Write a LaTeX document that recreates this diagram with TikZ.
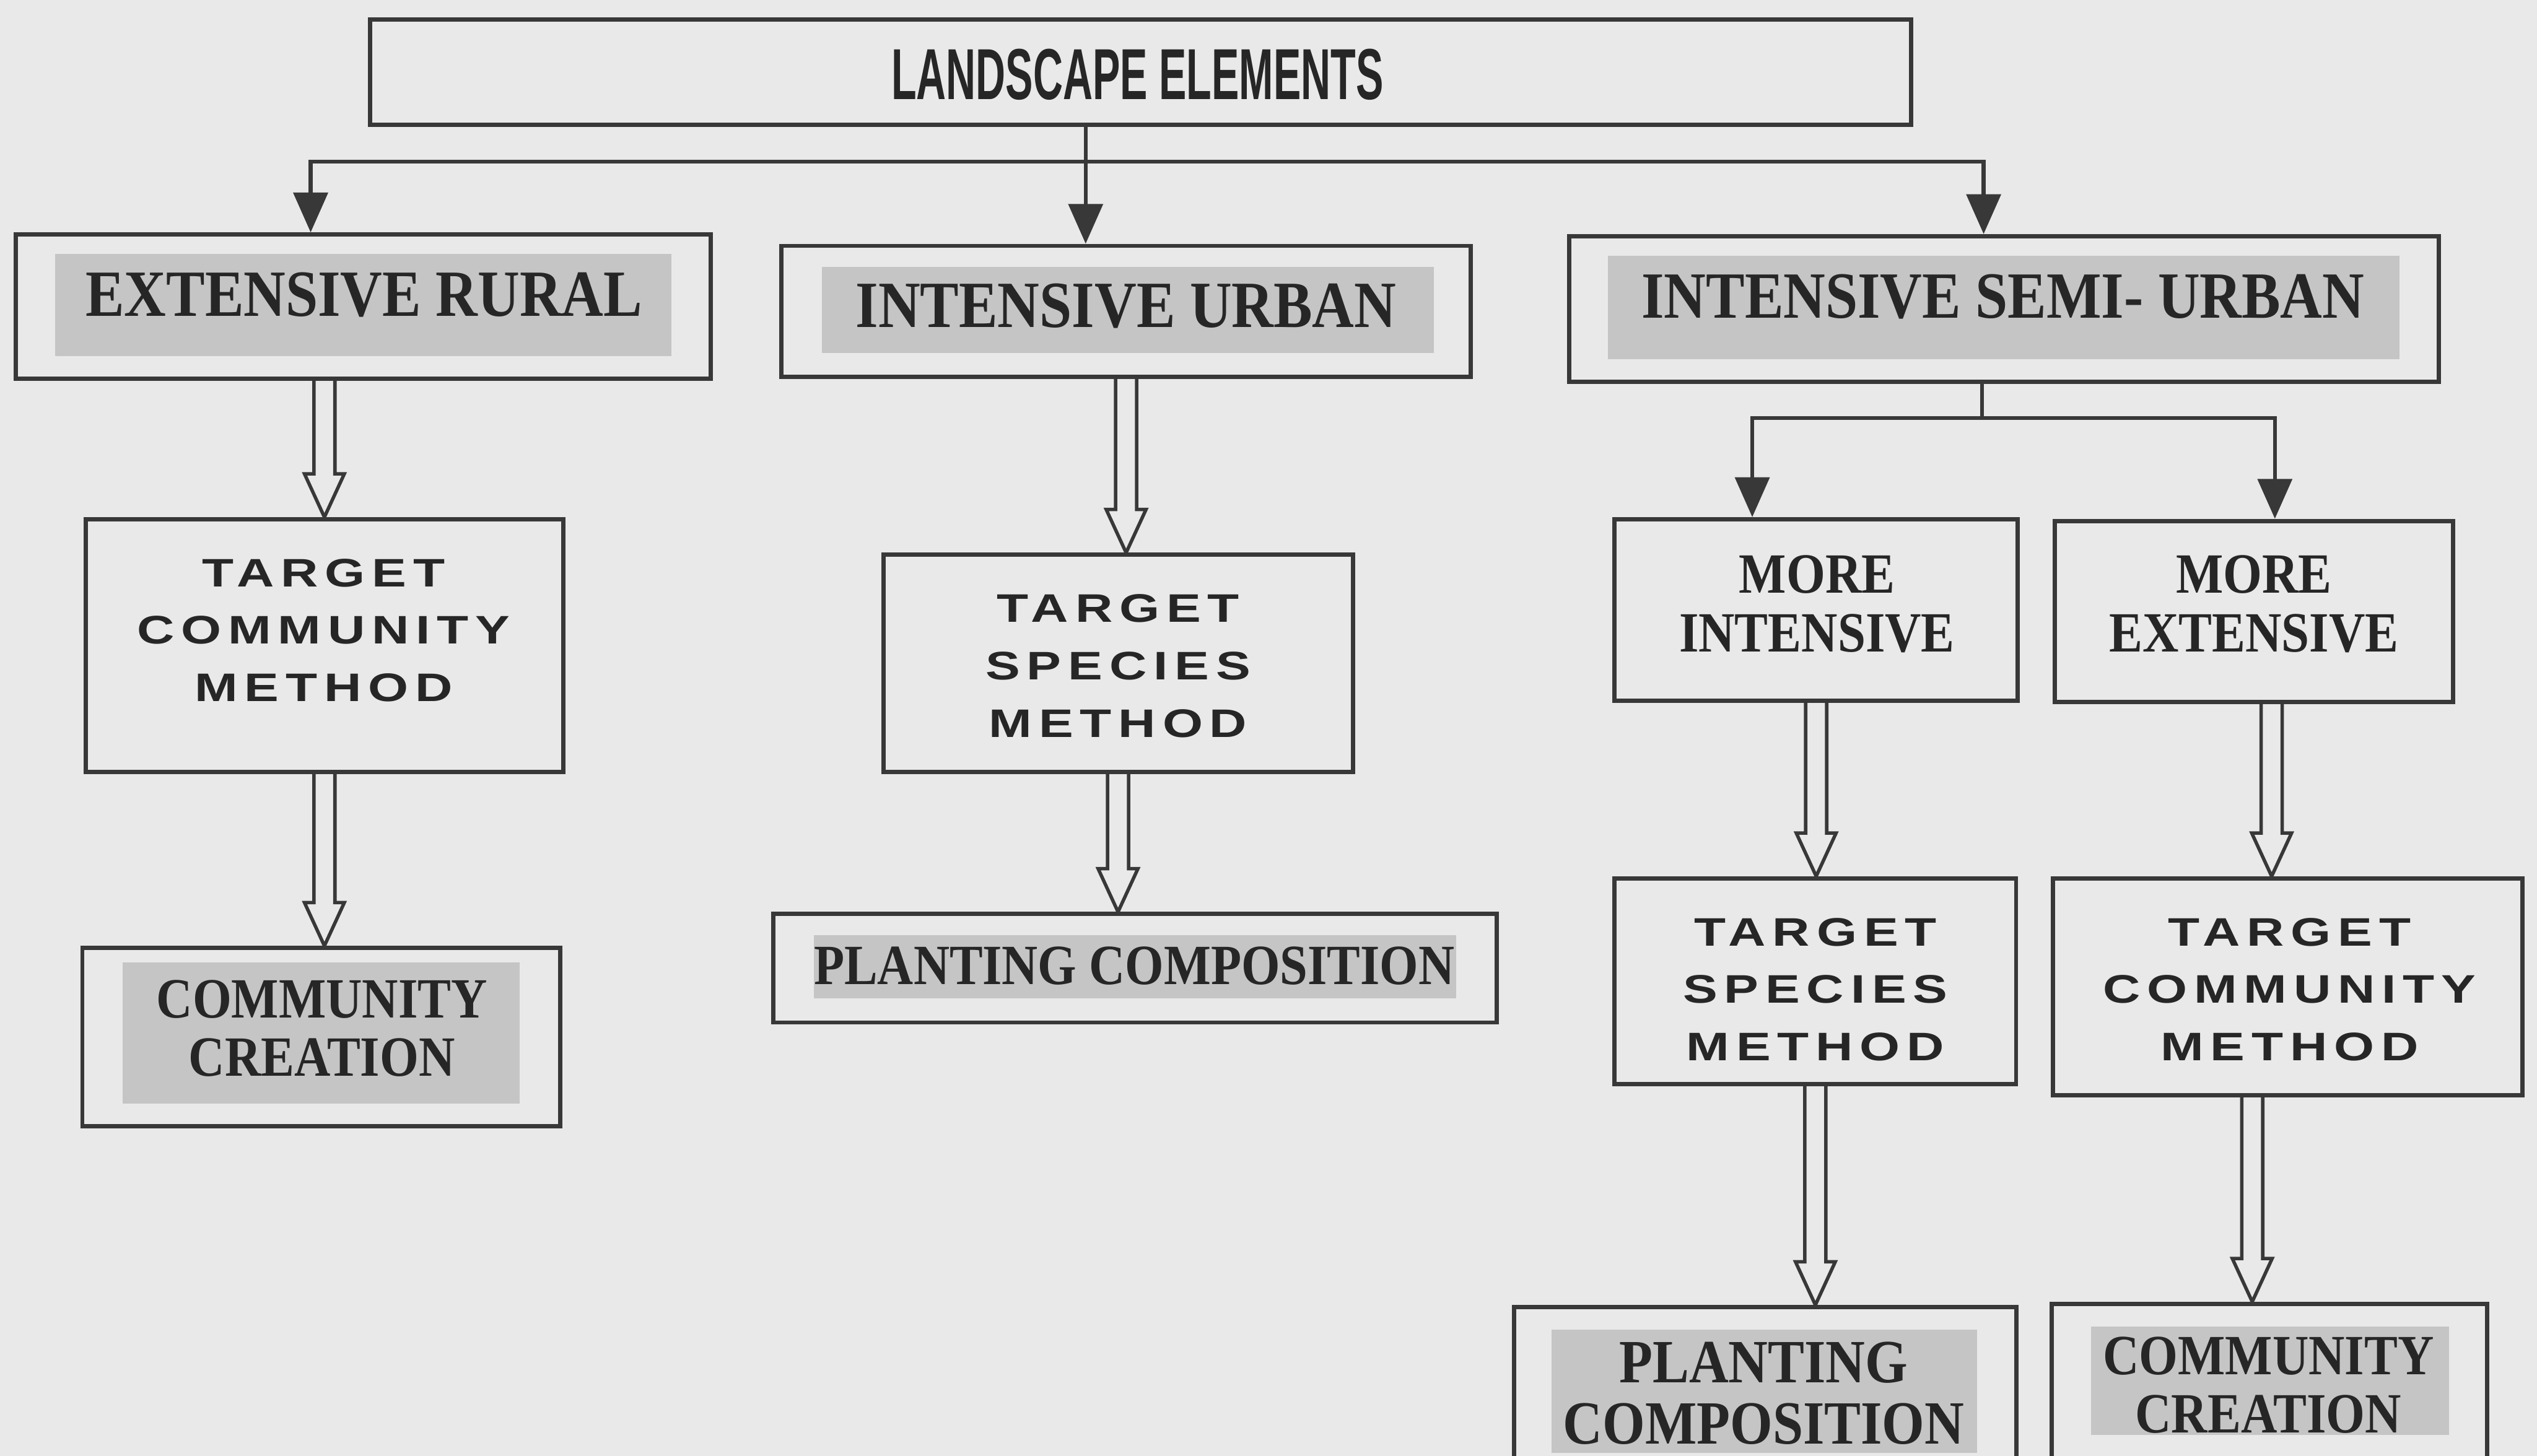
\documentclass[tikz,border=0pt]{standalone}
\usepackage{fontspec}
\setmainfont{Liberation Serif}
\newfontfamily\headfont{Liberation Sans}
\newfontfamily\widefont[LetterSpace=13]{Liberation Sans}
\usetikzlibrary{calc,arrows.meta}

\definecolor{paper}{HTML}{E9E9E9}
\definecolor{shade}{HTML}{C5C5C5}
\definecolor{ink}{HTML}{262626}
\definecolor{rule}{HTML}{383838}

% horizontally squeezed / stretched lines of text
\newcommand\sqz[1]{\scalebox{0.88}[1]{#1}}
\newcommand\wide[1]{\scalebox{1.3}[1]{#1}}

% open (outline) block arrow from the level of #1 down to the tip #2
\newcommand\fatarrow[2]{%
  \draw[hollow] let \p1=#1, \p2=#2 in
    (\x2-1.85pt,\y1) -- (\x2-1.85pt,\y2+7.6pt) -- (\x2-3.5pt,\y2+7.6pt)
    -- (\x2,\y2) -- (\x2+3.5pt,\y2+7.6pt) -- (\x2+1.85pt,\y2+7.6pt)
    -- (\x2+1.85pt,\y1);}

\tikzset{
  frame/.style 2 args={draw=rule, line width=0.75pt, inner sep=0pt,
    minimum width=#1, minimum height=#2},
  tint/.style 2 args={fill=shade, inner sep=0pt,
    minimum width=#1, minimum height=#2},
  label base/.style={inner sep=0pt, text depth=0pt, align=center, text=ink},
  titletext/.style={label base, font=\headfont\bfseries\fontsize{12.7}{14}\selectfont},
  bigserif/.style={label base, font=\bfseries\fontsize{11.6}{13}\selectfont},
  serif/.style={label base, font=\bfseries\fontsize{10}{10.3}\selectfont},
  serifb/.style={label base, font=\bfseries\fontsize{10.8}{10.8}\selectfont},
  widetext/.style={label base, font=\widefont\bfseries\fontsize{7}{10.1}\selectfont},
  link/.style={draw=rule, line width=0.7pt, -{Triangle[length=7pt,width=6pt]}},
  plain/.style={draw=rule, line width=0.7pt},
  hollow/.style={draw=rule, line width=0.6pt, line join=miter},
}

\begin{document}
\begin{tikzpicture}[x=0.01cm, y=-0.01cm]
\useasboundingbox (0,0) rectangle (1568,900);
\fill[paper] (0,0) rectangle (1568,900);
\clip (0,0) rectangle (1568,900);

% ---- frames ----
\node[frame={9.52cm}{0.65cm}] (top)  at (705,44.5) {};
\node[frame={4.29cm}{0.89cm}] (er)   at (224.5,189.5) {};
\node[frame={4.26cm}{0.81cm}] (iu)   at (696,192.5) {};
\node[frame={5.37cm}{0.90cm}] (isu)  at (1238.5,191) {};
\node[frame={2.95cm}{1.56cm}] (tcm1) at (200.5,399) {};
\node[frame={2.90cm}{1.34cm}] (tsm1) at (691,410) {};
\node[frame={2.95cm}{1.10cm}] (cc1)  at (198.5,641) {};
\node[frame={4.47cm}{0.67cm}] (pc1)  at (701.5,598.5) {};
\node[frame={2.49cm}{1.12cm}] (mi)   at (1122.5,377) {};
\node[frame={2.46cm}{1.12cm}] (me)   at (1393,378) {};
\node[frame={2.48cm}{1.27cm}] (tsm2) at (1122,606.5) {};
\node[frame={2.90cm}{1.34cm}] (tcm2) at (1414,610) {};
\node[frame={3.10cm}{1.32cm}] (pc2)  at (1091,874) {};
\node[frame={2.69cm}{1.34cm}] (cc2)  at (1402.5,873) {};

% ---- grey highlight panels ----
\node[tint={3.81cm}{0.63cm}] (er-bg)  at (224.5,188.5) {};
\node[tint={3.78cm}{0.53cm}] (iu-bg)  at (697,191.5) {};
\node[tint={4.89cm}{0.64cm}] (isu-bg) at (1238.5,190) {};
\node[tint={2.45cm}{0.87cm}] (cc1-bg) at (198.5,638.5) {};
\node[tint={3.97cm}{0.39cm}] (pc1-bg) at (701.5,597.5) {};
\node[tint={2.63cm}{0.76cm}] (pc2-bg) at (1090.5,860) {};
\node[tint={2.21cm}{0.67cm}] (cc2-bg) at (1403,853.5) {};

% ---- labels ----
\node[titletext] (top-t) at (703,46) {\scalebox{0.57}[1]{LANDSCAPE ELEMENTS}};
\node[bigserif] (er-t)  at (225,182)  {\sqz{EXTENSIVE RURAL}};
\node[bigserif] (iu-t)  at (696,189)  {\sqz{INTENSIVE URBAN}};
\node[bigserif] (isu-t) at (1238,183) {\sqz{INTENSIVE SEMI- URBAN}};
\node[widetext] (tcm1-t) at (200,389.5) {\wide{TARGET}\\\wide{COMMUNITY}\\\wide{METHOD}};
\node[widetext] (tsm1-t) at (691,411.5) {\wide{TARGET}\\\wide{SPECIES}\\\wide{METHOD}};
\node[serif] (cc1-t) at (199,635.5) {\sqz{COMMUNITY}\\\sqz{CREATION}};
\node[serif] (pc1-t) at (701,597) {\scalebox{0.875}[1]{PLANTING COMPOSITION}};
\node[serif] (mi-t) at (1123,373) {\sqz{MORE}\\\sqz{INTENSIVE}};
\node[serif] (me-t) at (1393,373) {\sqz{MORE}\\\sqz{EXTENSIVE}};
\node[widetext] (tsm2-t) at (1122,611.5) {\wide{TARGET}\\\wide{SPECIES}\\\wide{METHOD}};
\node[widetext] (tcm2-t) at (1415,611.5) {\wide{TARGET}\\\wide{COMMUNITY}\\\wide{METHOD}};
\node[serifb] (pc2-t) at (1090,861) {\scalebox{0.89}[1]{PLANTING}\\\scalebox{0.89}[1]{COMPOSITION}};
\node[serif] (cc2-t) at (1402,856) {\sqz{COMMUNITY}\\\sqz{CREATION}};

% ---- distribution from the top box ----
\coordinate (bus) at (671,100);
\coordinate (er-in)  at ($(er.north)+(-32.5,0)$);
\coordinate (isu-in) at ($(isu.north)+(-12.5,0)$);
\draw[link] (top.south -| bus) -- (iu.north -| bus);
\draw[link] (bus) -| (er-in);
\draw[link] (bus) -| (isu-in);

% ---- split below the semi-urban box ----
\coordinate (split) at ($(isu.south)+(-13.5,21)$);
\coordinate (mi-in) at ($(mi.north)+(-39.5,0)$);
\coordinate (me-in) at ($(me.north)+(13,0)$);
\draw[plain] (isu.south -| split) -- (split);
\draw[link] (split) -| (mi-in);
\draw[link] (split) -| (me-in);

% ---- open block arrows ----
\fatarrow{(er.south)}{(tcm1.north)}
\fatarrow{(tcm1.south)}{(tcm1.south |- cc1.north)}
\fatarrow{(iu.south)}{(iu.south |- tsm1.north)}
\fatarrow{(tsm1.south)}{(tsm1.south |- pc1.north)}
\fatarrow{(mi.south)}{(mi.south |- tsm2.north)}
\coordinate (me-out) at ($(me.south)+(11,0)$);
\fatarrow{(me-out)}{(me-out |- tcm2.north)}
\fatarrow{(tsm2.south)}{(tsm2.south |- pc2.north)}
\coordinate (cc2-in) at (1392,0);
\fatarrow{(tcm2.south)}{(cc2-in |- cc2.north)}
\end{tikzpicture}
\end{document}
